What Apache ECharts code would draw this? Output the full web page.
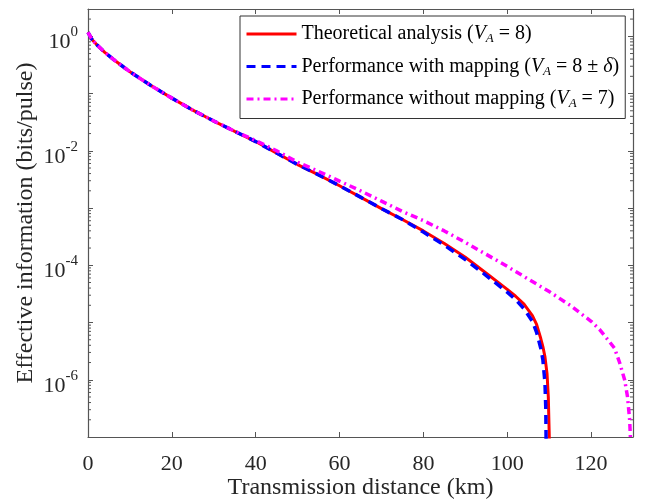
<!DOCTYPE html>
<html>
<head>
<meta charset="utf-8">
<script src="https://cdn.jsdelivr.net/npm/echarts@6/dist/echarts.min.js"></script>
<style>
  html, body { margin: 0; padding: 0; background: #fff; }
  #chart { width: 646px; height: 500px; }
</style>
</head>
<body>
<div id="chart"></div>
<script>
//读图得到的数据（距离 km, 有效信息 bits/pulse）
let xTheory = [0, 1, 2, 4, 6, 8, 10, 15, 20, 25, 30, 35, 40, 45, 50, 55, 60, 65, 70, 75, 80, 85, 90, 95, 100, 102, 104, 106, 107, 108, 108.5, 109, 109.5, 109.8, 110, 110.1];
let yTheory = [1.175, 0.871, 0.724, 0.525, 0.398, 0.309, 0.240, 0.138, 0.0832, 0.0513, 0.0331, 0.0219, 0.0145, 9.12e-3, 5.75e-3, 3.80e-3, 2.45e-3, 1.55e-3, 9.77e-4, 6.31e-4, 3.98e-4, 2.40e-4, 1.38e-4, 7.24e-5, 3.80e-5, 2.88e-5, 2.09e-5, 1.32e-5, 9.3e-6, 5.25e-6, 3.80e-6, 2.51e-6, 1.26e-6, 5.0e-7, 1.26e-7, 5.0e-8];

let xMapping = [0, 1, 2, 4, 6, 8, 10, 15, 20, 25, 30, 35, 40, 45, 50, 55, 60, 65, 70, 75, 80, 85, 90, 95, 100, 102, 104, 106, 107, 108, 108.5, 109, 109.2, 109.3];
let yMapping = [1.175, 0.871, 0.724, 0.525, 0.398, 0.309, 0.240, 0.138, 0.0832, 0.0513, 0.0331, 0.0219, 0.0145, 9.12e-3, 5.75e-3, 3.80e-3, 2.45e-3, 1.55e-3, 9.77e-4, 6.31e-4, 3.80e-4, 2.24e-4, 1.26e-4, 6.61e-5, 3.39e-5, 2.51e-5, 1.74e-5, 1.05e-5, 6.76e-6, 3.55e-6, 2.24e-6, 8.9e-7, 3.16e-7, 5.0e-8];

let xNoMapping = [0, 1, 2, 4, 6, 8, 10, 15, 20, 25, 30, 35, 40, 45, 50, 55, 60, 65, 70, 75, 80, 85, 90, 95, 100, 105, 110, 115, 120, 122, 124, 125.6, 126.8, 128, 128.7, 129.2, 129.5];
let yNoMapping = [1.175, 0.871, 0.724, 0.525, 0.398, 0.309, 0.240, 0.138, 0.0832, 0.0513, 0.0331, 0.0219, 0.0151, 0.0100, 6.31e-3, 4.37e-3, 2.95e-3, 2.00e-3, 1.32e-3, 8.71e-4, 6.03e-4, 3.98e-4, 2.51e-4, 1.55e-4, 9.55e-5, 5.75e-5, 3.47e-5, 2.0e-5, 1.05e-5, 7.59e-6, 5.01e-6, 3.55e-6, 2.0e-6, 1.0e-6, 5.0e-7, 2.0e-7, 6.3e-8];

let seriesNames = ['Theoretical analysis', 'Performance with mapping', 'Performance without mapping'];
let legendText = {
    'Theoretical analysis': 'Theoretical analysis ({i|V}{sub|A} = 8)',
    'Performance with mapping': 'Performance with mapping ({i|V}{sub|A} = 8 ± {i|δ})',
    'Performance without mapping': 'Performance without mapping ({i|V}{sub|A} = 7)'
};

let xMin = 0, xMax = 130, xStep = 20;
let yMin = 1e-7, yMax = 3;

//对数轴的次刻度 2..9
let minorTicks = [];
for (let d = -7; d <= 0; d++) {
    for (let k = 2; k <= 9; k++) {
        let v = k * Math.pow(10, d);
        if (v > yMin && v < yMax) minorTicks.push([xMin, v]);
    }
}

const font = 'Liberation Serif';
const axisColor = '#555';
const textColor = '#262626';

function pairs(xs, ys) {
    let out = [];
    for (let i = 0; i < xs.length; i++) out.push([xs[i], ys[i]]);
    return out;
}

//只显示偶数次幂标签
function powLabel(value) {
    let e = Math.round(Math.log10(value));
    if (Math.abs(value / Math.pow(10, e) - 1) > 1e-6) return '';
    if (e % 2 !== 0) return '';
    return '{b|10}{s|' + e + '}';
}

let myChart = echarts.init(document.getElementById('chart'));

let option = {
    animation: false,
    backgroundColor: '#fff',
    grid: { left: 88, right: 13, top: 9, bottom: 63, outerBoundsMode: 'none' },
    legend: {
        data: seriesNames,
        orient: 'vertical',
        left: 240,
        top: 16,
        padding: [8, 6, 8, 5],
        itemWidth: 50,
        itemHeight: 18,
        itemGap: 11,
        backgroundColor: '#fff',
        borderColor: '#333',
        borderWidth: 1,
        borderRadius: 0,
        itemStyle: { opacity: 0 },
        lineStyle: { width: 3 },
        formatter: function (name) { return legendText[name]; },
        textStyle: {
            fontFamily: font,
            fontSize: 20,
            color: '#000',
            rich: {
                i: { fontFamily: font, fontSize: 20, fontStyle: 'italic', color: '#000' },
                sub: { fontFamily: font, fontSize: 13, fontStyle: 'italic', color: '#000', padding: [10, 0, 0, 0] }
            }
        }
    },
    xAxis: [
        {
            type: 'value',
            min: xMin,
            max: xMax,
            interval: xStep,
            name: 'Transmission distance (km)',
            nameLocation: 'middle',
            nameGap: 39,
            nameMoveOverlap: false,
            nameTextStyle: { fontFamily: font, fontSize: 24, color: textColor },
            axisLine: { onZero: false, lineStyle: { color: axisColor, width: 1.2 } },
            axisTick: { inside: true, length: 5, lineStyle: { color: axisColor } },
            axisLabel: { fontFamily: font, fontSize: 22, color: textColor, margin: 16, showMaxLabel: false },
            splitLine: { show: false }
        },
        {
            type: 'value',
            position: 'top',
            min: xMin,
            max: xMax,
            interval: xStep,
            axisLine: { onZero: false, lineStyle: { color: axisColor, width: 1.2 } },
            axisTick: { inside: true, length: 5, lineStyle: { color: axisColor } },
            axisLabel: { show: false },
            splitLine: { show: false }
        }
    ],
    yAxis: [
        {
            type: 'log',
            logBase: 10,
            min: yMin,
            max: yMax,
            name: 'Effective information (bits/pulse)',
            nameLocation: 'middle',
            nameGap: 50,
            nameMoveOverlap: false,
            nameTextStyle: { fontFamily: font, fontSize: 24, color: textColor },
            axisLine: { show: true, onZero: false, lineStyle: { color: axisColor, width: 1.2 } },
            axisTick: { inside: true, length: 5, lineStyle: { color: axisColor } },
            axisLabel: {
                margin: 10,
                formatter: powLabel,
                rich: {
                    b: { fontFamily: font, fontSize: 22, color: textColor, padding: [12, 0, 0, 0] },
                    s: { fontFamily: font, fontSize: 15, color: textColor, padding: [0, 0, 8, 0] }
                }
            },
            splitLine: { show: false }
        },
        {
            type: 'log',
            logBase: 10,
            position: 'right',
            min: yMin,
            max: yMax,
            axisLine: { show: true, onZero: false, lineStyle: { color: axisColor, width: 1.2 } },
            axisTick: { inside: true, length: 5, lineStyle: { color: axisColor } },
            axisLabel: { show: false },
            splitLine: { show: false }
        }
    ],
    series: [
        {
            name: seriesNames[0],
            type: 'line',
            data: pairs(xTheory, yTheory),
            showSymbol: false,
            symbol: 'none',
            color: '#ff0000',
            lineStyle: { color: '#ff0000', width: 3, type: 'solid' },
            z: 3
        },
        {
            name: seriesNames[1],
            type: 'line',
            data: pairs(xMapping, yMapping),
            showSymbol: false,
            symbol: 'none',
            color: '#0000ff',
            lineStyle: { color: '#0000ff', width: 3.5, type: [9, 6] },
            z: 4
        },
        {
            name: seriesNames[2],
            type: 'line',
            data: pairs(xNoMapping, yNoMapping),
            showSymbol: false,
            symbol: 'none',
            color: '#ff00ff',
            lineStyle: { color: '#ff00ff', width: 3.5, type: [7, 4, 2, 4] },
            z: 5
        },
        {
            //左右两侧的次刻度
            type: 'custom',
            silent: true,
            data: minorTicks,
            encode: { x: 0, y: 1 },
            z: 1,
            renderItem: function (params, api) {
                let v = api.value(1);
                let pl = api.coord([xMin, v]);
                let pr = api.coord([xMax, v]);
                let st = { stroke: axisColor, lineWidth: 1 };
                return {
                    type: 'group',
                    children: [
                        { type: 'line', shape: { x1: pl[0], y1: pl[1], x2: pl[0] + 3, y2: pl[1] }, style: st },
                        { type: 'line', shape: { x1: pr[0], y1: pr[1], x2: pr[0] - 3, y2: pr[1] }, style: st }
                    ]
                };
            }
        }
    ]
};

myChart.setOption(option);
</script>
</body>
</html>
